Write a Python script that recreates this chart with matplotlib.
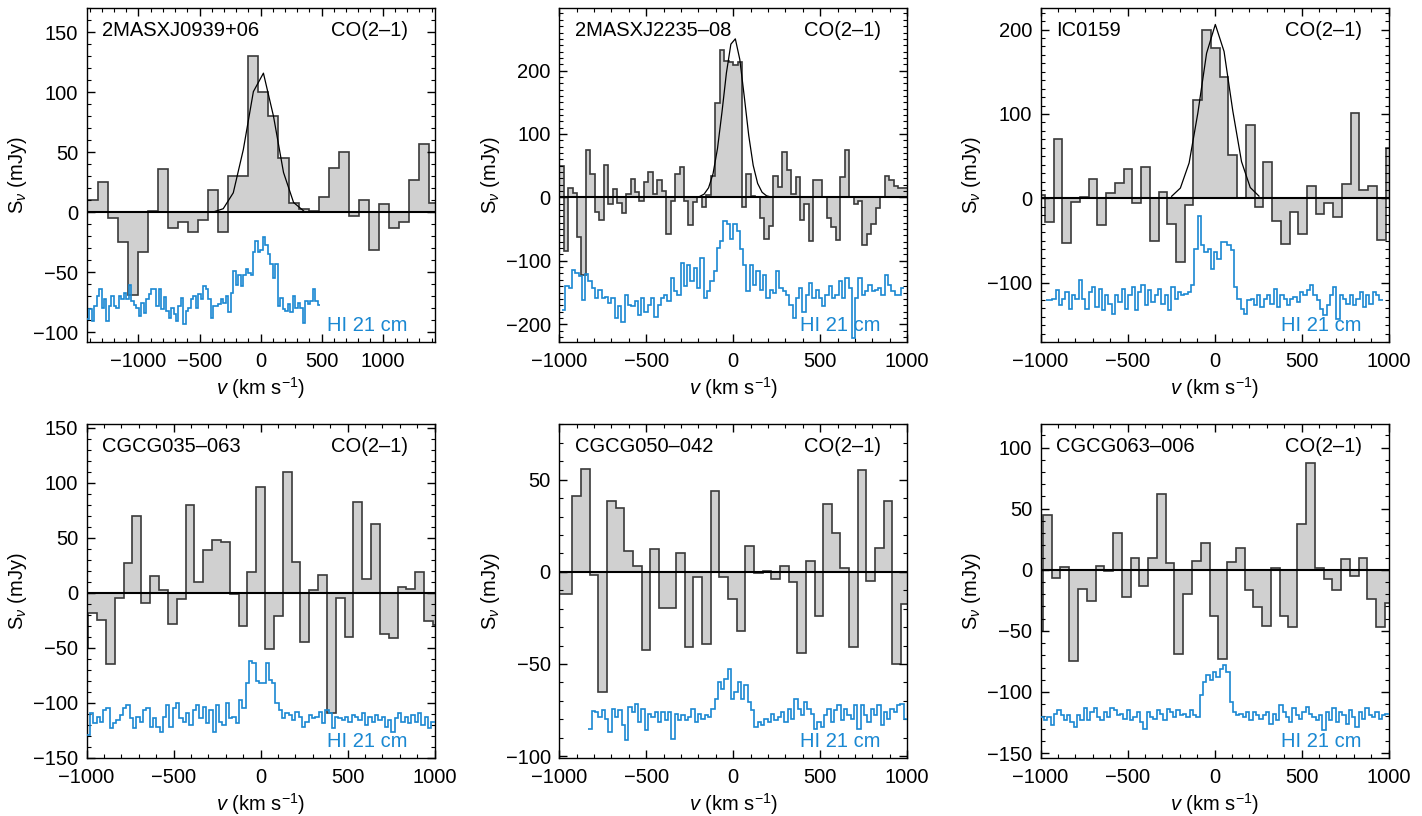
import numpy as np
import matplotlib
matplotlib.use("Agg")
import matplotlib.pyplot as plt
from matplotlib.ticker import MultipleLocator

plt.rcParams['font.family'] = ['Liberation Sans', 'DejaVu Sans']
plt.rcParams['mathtext.fontset'] = 'custom'
plt.rcParams['mathtext.rm'] = 'Liberation Sans'
plt.rcParams['mathtext.it'] = 'Liberation Sans:italic'
plt.rcParams['font.size'] = 14.5

names = ["2MASXJ0939+06", "2MASXJ2235\u201308", "IC0159",
         "CGCG035\u2013063", "CGCG050\u2013042", "CGCG063\u2013006"]

# CO(2-1) spectra: first channel edge and channel width (km/s), flux (mJy)
co_start = [-1417, -1000, -1025, -1041, -1023, -1037]
co_width = [82.3, 25.64, 50.2, 50.8, 49.7, 50.4]

co_0939 = [10, 25, -5, -25, -69, -33, 1, 36, -13, -8, -16, -6, 19, -16, 30, 30,
           130, 100, 80, 45, 8, 3, 1, 13, 37, 50, -3, 10, -31, 7, -13, -8, 27, 57, 8]
co_2235 = [49.1, -84.7, 15.3, 6.8, -62, -121.8, 75, 36.9, -22.3, -36.1, 51.8, -10.7,
           13.2, -9.6, -23.9, 5.2, 29, 7.9, -5.4, 23.7, 39.6, 5.2, 28, 10.5, -58.3,
           -6.4, 36.9, 47.5, -5.4, -43.5, -8, -0.1, -14.4, 3.6, 34.3, 149.1, 231.7,
           215.8, 214.2, 208.9, 214.2, -14.4, 36.9, 2.6, -0.1, -31.8, -66.2, -45.1,
           34.3, 16.9, 71.3, 43.3, 5.2, 31.7, -36.1, -10.7, -68.9, 27.4, 27.4, 1,
           -31.8, -46.6, -67.8, 31.7, 74, -0.1, -10.7, -6.4, -75.2, -57.2, -42.4,
           -17, -0.1, 34.3, 28, 18.4, 14.2, 14.2]
co_ic0159 = [3.9, -27.7, 69.9, -52.6, -4.8, 1.9, 23.3, -31.7, 6.7, 17.8, 34.8, -5.2,
             36.7, -50.6, 7.9, -29.7, -75.6, -7.9, 116.6, 198.9, 177.9, 143.5, 51, 0,
             86.5, -9.9, 43.5, -26.9, -53.4, -16.2, -41.6, 15, -18.6, -6, -21.8, 17.4,
             100.8, 9.9, 15, -48.7, 60.1]
co_035 = [-50.1, -18.2, -24.9, -64.4, -4.5, 27.4, 69.9, -9.1, 15.2, 2.5, -28.2, -6,
          79.7, 10.1, 39, 47.8, 46.2, -1.5, -30.3, 19.2, 96.4, -50.7, -20.6, 109.4, 28,
          -44.3, 2.5, 16.5, -108.7, -4.5, -39.8, 82.7, 12.2, 62.9, -37.3, -41.3, 5.5,
          3.1, 19.2, -25.5, -29.4]
co_050 = [-12.1, -12.1, 41, 55.8, -1.6, -65.4, 38.3, 34.5, 11.2, 2.9, -42.3, 12.4,
          -19.5, -19.5, 10.3, -40.6, -2.9, -39.2, 43.7, -2.9, -14.8, -32, 13.9, -0.9,
          0.5, -3.8, 3.1, -5.3, -43.9, 6, -23.7, 36.8, 21.1, 2, -40.6, 55.2, -5.1,
          12.8, 38.3, -50.2, -17.4]
co_063 = [-50.2, 44.8, -6.8, 1.9, -74.5, -16.1, -25.9, 3.3, -1.1, 30.3, -22.6, 9.3,
          -13.3, 9.9, 61.7, 5.8, -68.5, -19.9, 7.1, 21.6, -37.6, -72.6, 6.6, 17.5,
          -16.9, -30.8, -46.1, 1.1, -38.2, -46.9, 37.7, 87.1, 1.1, -7.9, -16.6, 8.8,
          -5.2, 9.6, -24, -47.2, -27]

# HI 21 cm spectra (offset in the plots), velocity span (km/s) and flux (mJy)
hi_range = [(-1425, 487), (-983, 985), (-971, 966), (-1000, 1000), (-832, 1000), (-1000, 1000)]

hi_0939 = [-89, -80.7, -90.4, -77.9, -69.6, -63.5, -79.3, -71.8, -90.4, -77.9, -69.6,
           -77.9, -79.3, -69.6, -72.4, -66.8, -72.4, -60.7, -73.8, -77.1, -79.3, -86.2,
           -75.1, -83.5, -72.4, -68.2, -64, -63.5, -77.9, -64, -80.1, -70.4, -82.1,
           -87.6, -79.3, -84.9, -90.4, -77.9, -71, -93.2, -82.1, -79.3, -72.4, -69.6,
           -79.3, -68.2, -72.4, -61.3, -64, -71.8, -87.6, -77.9, -77.9, -76.5, -72.4,
           -75.1, -69.6, -82.6, -66.8, -49, -60.7, -52.4, -61.3, -52.4, -46.8, -50.1,
           -52.4, -32.9, -23.8, -32.9, -31.5, -20.1, -27.4, -34.3, -43.2, -54.3, -43.2,
           -77.9, -71, -80.7, -82.1, -76.5, -82.9, -69.6, -79.3, -75.1, -79.3, -91.8,
           -73.8, -76, -73.8, -63.5, -73.8, -77.3]
hi_2235 = [-177.3, -139.2, -142.9, -113.8, -119.1, -124.4, -161.5, -120.7, -132.3,
           -142.9, -158.8, -145.6, -158.8, -157.8, -166.8, -158.8, -190.5, -172,
           -195.8, -153.5, -169.4, -172, -164.1, -185.3, -158.8, -180, -169.4, -158.8,
           -187.9, -169.4, -158.8, -153.5, -164.1, -127.1, -148.2, -153.5, -103.3,
           -140.3, -105.9, -132.3, -111.2, -142.9, -95.3, -158.8, -148.2, -132.3,
           -116.5, -79.4, -68.9, -37.1, -42.4, -66.2, -42.4, -53, -82.1, -105.9,
           -148.2, -105.9, -137.6, -116.5, -145.6, -121.8, -158.8, -145.6, -150.9,
           -116.5, -142.9, -148.2, -153.5, -169.4, -190.5, -158.8, -142.9, -180,
           -153.5, -135, -158.8, -145.6, -158.8, -172, -153.5, -140.3, -158.8, -153.5,
           -132.3, -158.8, -127.1, -142.9, -222.3, -158.8, -127.1, -153.5, -148.2,
           -137.6, -148.2, -145.6, -142.9, -153.5, -121.8, -137.6, -148.2, -153.5,
           -153.5, -142.9]
hi_ic0159 = [-120.6, -120.6, -118.7, -108.8, -126.6, -118.7, -110.8, -130.5, -114.7,
             -118.7, -96.9, -118.7, -130.5, -110.8, -104.8, -128.5, -106.8, -132.5,
             -114.7, -124.6, -136.5, -114.7, -122.6, -106.8, -130.5, -114.7, -104.8,
             -132.5, -110.8, -102.8, -126.6, -108.8, -122.6, -114.7, -106.8, -124.6,
             -114.7, -132.5, -104.8, -118.7, -110.8, -114.7, -112.7, -110.8, -102.8,
             -59.4, -20.6, -55.4, -63.3, -59.4, -83.1, -63.3, -71.2, -51.4, -51.4,
             -55.4, -61.3, -104.8, -118.7, -130.5, -136.5, -120.6, -118.7, -126.6,
             -114.7, -128.5, -118.7, -114.7, -124.6, -106.8, -128.5, -114.7, -118.7,
             -126.6, -118.7, -116.7, -122.6, -110.8, -114.7, -108.8, -102.8, -114.7,
             -120.6, -130.5, -138.4, -126.6, -114.7, -104.8, -142.4, -114.7, -118.7,
             -124.6, -114.7, -126.6, -118.7, -110.8, -128.5, -114.7, -124.6, -110.8,
             -114.7, -120.6]
hi_035 = [-129.1, -109.3, -118.5, -112.4, -116.9, -106.3, -104.8, -123, -118.5, -115.4,
          -110.9, -104.8, -101.7, -113.9, -123, -112.4, -116.9, -106.3, -104.8, -121.5,
          -113.9, -121.5, -126, -112.4, -101.7, -121.5, -104.8, -100.2, -113.9, -116.9,
          -109.3, -120, -106.3, -101.7, -113.9, -103.3, -118.5, -106.3, -126, -101.7,
          -116.9, -120, -100.2, -113.9, -112.4, -118.5, -97.2, -104.8, -82, -62.2,
          -63.8, -80.5, -82, -82, -63.8, -79, -82, -100.2, -106.3, -113.9, -109.3,
          -110.9, -115.4, -107.8, -112.4, -121.5, -116.9, -110.9, -113.9, -112.4,
          -107.8, -118.5, -106.3, -109.3, -123, -112.4, -113.9, -115.4, -112.4, -116.9,
          -110.9, -112.4, -115.4, -109.3, -120, -112.4, -116.9, -110.9, -115.4, -112.4,
          -121.5, -115.4, -126, -113.9, -109.3, -116.9, -112.4, -118.5, -110.9, -116.9,
          -109.3, -120, -112.4, -123, -116.9]
hi_050 = [-85.1, -75.7, -76.1, -78.7, -75.1, -79.6, -86.9, -74.2, -78.7, -75.1, -83.3,
          -91.4, -73.3, -76.1, -71.5, -81.5, -74.2, -86, -77, -78.7, -76.1, -81.5,
          -76.1, -80.6, -76.1, -90.5, -77, -80.6, -77.9, -80.6, -78.7, -74.2, -81.5,
          -77, -79.6, -77.9, -78.7, -74.2, -68.8, -59.8, -63.4, -58, -52.6, -68.8,
          -65.2, -59.8, -68.8, -61.6, -70.6, -75.1, -84.2, -81.5, -83.3, -79.6, -81.5,
          -77, -80.6, -78.7, -76.1, -81.5, -74.2, -79.6, -68.8, -74.2, -77.9, -70.6,
          -74.2, -77, -85.1, -81.5, -84.2, -77.9, -74.2, -81.5, -75.1, -72.4, -80.6,
          -74.2, -77.9, -79.6, -72.4, -85.1, -72.4, -77.9, -81.5, -74.2, -77.9, -72.4,
          -83.3, -76.1, -79.6, -74.2, -76.1, -72.4, -71.5, -79.6]
hi_063 = [-120.4, -123.1, -120.4, -127.2, -117.6, -114.9, -119, -123.1, -119, -124.5,
          -128.6, -119, -123.1, -113, -123.1, -116.3, -113.5, -120.4, -123.1, -116.3,
          -120.4, -113.5, -114.9, -119, -117.6, -121.7, -114.9, -123.1, -120.4, -116.3,
          -124.5, -130, -116.3, -120.4, -121.7, -114.9, -117.6, -123.1, -114.1, -116.3,
          -120.4, -114.9, -119, -117.6, -120.4, -114.9, -119, -120.4, -102.6, -91.7,
          -86.2, -90.3, -83.5, -87.6, -80.8, -78.1, -83.5, -108.1, -116.3, -119,
          -117.6, -120.4, -116.3, -123.1, -116.3, -119, -121.7, -119, -116.3, -125.8,
          -117.6, -123.1, -110.8, -116.3, -120.4, -124.5, -113.5, -119, -121.7, -116.3,
          -112.2, -117.6, -120.4, -123.1, -119, -131.3, -116.3, -123.1, -113.5, -124.5,
          -116.3, -119, -125.8, -114.9, -120.4, -128.6, -116.3, -121.7, -113.5, -119,
          -120.4, -116.3, -121.7, -119, -117.6]

co_all = [co_0939, co_2235, co_ic0159, co_035, co_050, co_063]
hi_all = [hi_0939, hi_2235, hi_ic0159, hi_035, hi_050, hi_063]

# gaussian fits to the detected lines: amplitude (mJy), centre and FWHM (km/s)
fit_amp = [117.5, 252, 206]
fit_cen = [5, 5, 5]
fit_fwhm = [271, 145, 200]

xlims = [(-1425, 1425), (-1000, 1000), (-1000, 1000), (-1000, 1000), (-1000, 1000), (-1000, 1000)]
ylims = [(-108, 170), (-228, 298), (-170, 225), (-150, 153), (-101, 80), (-154, 119)]
ymajor = [50, 100, 100, 50, 50, 50]

grey = "#d0d0d0"
blue = "#1a88d2"

fig = plt.figure(figsize=(14.22, 8.16), dpi=100)
lefts = [0.0609, 0.3932, 0.7318]
bottoms = [0.5809, 0.0711]
w, h = 0.2447, 0.4088

for i in range(6):
    ax = fig.add_axes([lefts[i % 3], bottoms[i // 3], w, h])
    vals = np.array(co_all[i])
    edges = co_start[i] + co_width[i] * np.arange(len(vals) + 1)
    ax.stairs(vals, edges, baseline=0, fill=True, color=grey, lw=0)
    ax.stairs(vals, edges, baseline=None, color="#3a3a3a", lw=1.2)
    ax.axhline(0, color="black", lw=1.5, zorder=3)

    if i < 3:
        cen = 0.5 * (edges[:-1] + edges[1:])
        sig = fit_fwhm[i] / 2.3548
        m = np.abs(cen - fit_cen[i]) < 3.5 * sig
        g = fit_amp[i] * np.exp(-0.5 * ((cen[m] - fit_cen[i]) / sig) ** 2)
        ax.plot(cen[m], g, color="black", lw=0.9, zorder=4)

    hv = np.array(hi_all[i])
    hedges = np.linspace(hi_range[i][0], hi_range[i][1], len(hv) + 1)
    ax.stairs(hv, hedges, baseline=None, color=blue, lw=1.2, zorder=5)

    ax.set_xlim(*xlims[i])
    ax.set_ylim(*ylims[i])
    ax.xaxis.set_major_locator(MultipleLocator(500))
    ax.xaxis.set_minor_locator(MultipleLocator(100))
    ax.yaxis.set_major_locator(MultipleLocator(ymajor[i]))
    ax.yaxis.set_minor_locator(MultipleLocator(10))
    ax.tick_params(which="both", direction="in", top=True, right=True)
    ax.tick_params(which="major", length=6, width=1)
    ax.tick_params(which="minor", length=3, width=0.8)
    ax.tick_params(axis="x", which="major", pad=7)
    ax.tick_params(axis="y", which="major", pad=6)
    for s in ax.spines.values():
        s.set_linewidth(1.0)

    ax.set_xlabel(r"$v$ (km s$^{-1}$)", labelpad=3)
    ax.set_ylabel(r"S$_\nu$ (mJy)", labelpad=3)

    ax.text(0.045, 0.935, names[i], transform=ax.transAxes, ha="left", va="center")
    ax.text(0.925, 0.935, "CO(2\u20131)", transform=ax.transAxes, ha="right", va="center")
    ax.text(0.923, 0.05, "HI 21 cm", transform=ax.transAxes, ha="right", va="center",
            color=blue)

fig.savefig("out.png", dpi=100)
